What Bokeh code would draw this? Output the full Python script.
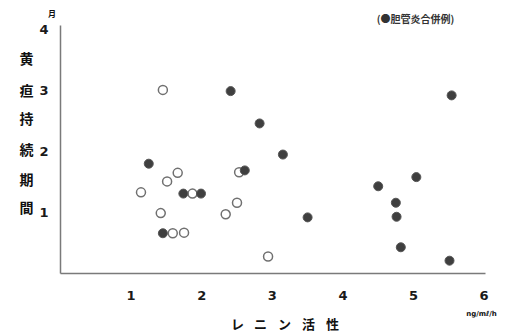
from bokeh.plotting import figure
from bokeh.models import Range1d, Label, FixedTicker
from bokeh.embed import file_html
from bokeh.resources import INLINE

# filled: with cholangitis (胆管炎合併例)
filled_x = [2.41, 2.82, 3.15, 1.25, 2.61, 1.74, 1.99, 3.50, 1.45, 5.54, 5.04, 4.50, 4.75, 4.76, 4.82, 5.51]
filled_y = [2.99, 2.46, 1.95, 1.80, 1.69, 1.31, 1.31, 0.92, 0.66, 2.92, 1.58, 1.43, 1.16, 0.93, 0.43, 0.21]
# open: without cholangitis
open_x = [1.45, 1.66, 2.53, 1.51, 1.14, 1.87, 2.50, 1.42, 2.34, 1.59, 1.75, 2.94]
open_y = [3.01, 1.65, 1.66, 1.51, 1.33, 1.31, 1.16, 0.99, 0.97, 0.66, 0.67, 0.28]

x_ticks = [1, 2, 3, 4, 5, 6]
y_ticks = [1, 2, 3, 4]
y_title_chars = ["黄", "疸", "持", "続", "期", "間"]
x_title_chars = ["レ", "ニ", "ン", "活", "性"]
legend_text = "(●胆管炎合併例)"
unit_text = "ng/mℓ/h"
month_text = "月"

CJK = "Noto Sans CJK JP"

p = figure(width=511, height=333, output_backend="svg", toolbar_location=None,
           x_range=Range1d(-0.8499, 6.388), y_range=Range1d(-0.9836, 4.4754),
           min_border=0)
p.outline_line_color = None
p.grid.visible = False
p.background_fill_color = "white"
p.border_fill_color = "white"

for ax in (p.xaxis[0], p.yaxis[0]):
    ax.fixed_location = 0
    ax.axis_line_color = "#7a7a7a"
    ax.axis_line_width = 1.5
    ax.major_tick_line_color = None
    ax.minor_tick_line_color = None
    ax.major_label_text_font = "DejaVu Sans"
    ax.major_label_text_font_style = "bold"
    ax.major_label_text_font_size = "13px"
    ax.major_label_text_color = "#1a1a1a"

p.xaxis.ticker = FixedTicker(ticks=x_ticks)
p.yaxis.ticker = FixedTicker(ticks=y_ticks)
p.xaxis.bounds = (0, 6.02)
p.yaxis.bounds = (0, 4.07)
p.xaxis.major_label_standoff = 11
p.yaxis.major_label_standoff = 6

p.scatter(open_x, open_y, size=9, fill_color="white", line_color="#707070", line_width=1.5)
p.scatter(filled_x, filled_y, size=9, fill_color="#3f3f3f", line_color="#555555", line_width=1)

# Y title, stacked vertically
y_title_y = [3.525, 3.016, 2.541, 2.049, 1.557, 1.082]
for ch, yy in zip(y_title_chars, y_title_y):
    p.add_layout(Label(x=-0.48, y=yy, text=ch, text_font=CJK, text_font_style="bold",
                       text_font_size="14px", text_align="center", text_baseline="middle",
                       text_color="#111111"))

# X title
x_title_x = [2.507, 2.833, 3.173, 3.513, 3.853]
for ch, xx in zip(x_title_chars, x_title_x):
    p.add_layout(Label(x=xx, y=-0.82, text=ch, text_font=CJK, text_font_style="bold",
                       text_font_size="13px", text_align="center", text_baseline="middle",
                       text_color="#111111"))

p.add_layout(Label(x=-0.12, y=4.262, text=month_text, text_font=CJK, text_font_style="bold",
                   text_font_size="8px", text_align="center", text_baseline="middle",
                   text_color="#111111"))
p.add_layout(Label(x=5.963, y=-0.656, text=unit_text, text_font="DejaVu Sans", text_font_style="bold",
                   text_font_size="7px", text_align="center", text_baseline="middle",
                   text_color="#111111"))
p.add_layout(Label(x=5.03, y=4.18, text=legend_text, text_font=CJK, text_font_style="bold",
                   text_font_size="10px", text_align="center", text_baseline="middle",
                   text_color="#333333"))

open("out.html", "w").write(file_html(p, INLINE))
